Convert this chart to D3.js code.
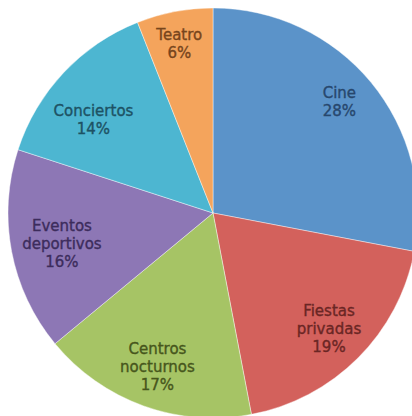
<!DOCTYPE html>
<html>
<head>
<meta charset="utf-8">
<script src="https://cdn.jsdelivr.net/npm/d3@7"></script>
<style>
  html, body { margin: 0; padding: 0; background: #ffffff; }
  svg { display: block; }
</style>
</head>
<body>
<svg id="chart" width="412" height="416"></svg>
<script>
// ---- data ----
const categories = ["Cine", "Fiestas privadas", "Centros nocturnos", "Eventos deportivos", "Conciertos", "Teatro"];
const values = [28, 19, 17, 16, 14, 6];
const labelLines = [["Cine"], ["Fiestas", "privadas"], ["Centros", "nocturnos"], ["Eventos", "deportivos"], ["Conciertos"], ["Teatro"]];

// ---- styles / layout ----
const fills = ["#5b93c9", "#d3615c", "#a6c465", "#8d77b5", "#4db6d1", "#f4a45c"];
const textColors = ["#27476d", "#6a2624", "#46561c", "#3c2c5c", "#1d5264", "#77451c"];
const W = 412, H = 416;
const cx = 213, cy = 213, R = 205;
const labelNudge = { "Cine": [0, -6], "Eventos deportivos": [10, 0], "Conciertos": [0, 19], "Teatro": [-3, -8] };

const svg = d3.select("#chart");
const data = categories.map((c, i) => ({ name: c, value: values[i], lines: labelLines[i], i }));

const pie = d3.pie().value(d => d.value).sort(null);
const arcs = pie(data);
const arc = d3.arc().innerRadius(0).outerRadius(R);
const labelArc = d3.arc().innerRadius(R * 0.8).outerRadius(R * 0.8);

const g = svg.append("g").attr("transform", `translate(${cx},${cy})`);

g.selectAll("path.slice")
  .data(arcs)
  .join("path")
  .attr("class", "slice")
  .attr("d", arc)
  .attr("fill", d => fills[d.data.i])
  .attr("stroke", "#ffffff")
  .attr("stroke-opacity", 0.6)
  .attr("stroke-width", 0.7);

const lineH = 18;
const labels = g.selectAll("text.lbl")
  .data(arcs)
  .join("text")
  .attr("class", "lbl")
  .attr("text-anchor", "middle")
  .attr("font-family", "'DejaVu Sans', Verdana, sans-serif")
  .attr("font-size", 15)
  .attr("fill", d => textColors[d.data.i])
  .attr("stroke", d => textColors[d.data.i])
  .attr("stroke-width", 0.35)
  .attr("transform", d => {
    const [x, y] = labelArc.centroid(d);
    const n = labelNudge[d.data.name] || [0, 0];
    return `translate(${x + n[0]},${y + n[1]})`;
  });

labels.each(function(d) {
  const lines = d.data.lines.concat([d.data.value + "%"]);
  const n = lines.length;
  d3.select(this).selectAll("tspan")
    .data(lines)
    .join("tspan")
    .attr("x", 0)
    .attr("y", (t, k) => 5 + (k - (n - 1) / 2) * lineH)
    .text(t => t);
});
</script>
</body>
</html>
